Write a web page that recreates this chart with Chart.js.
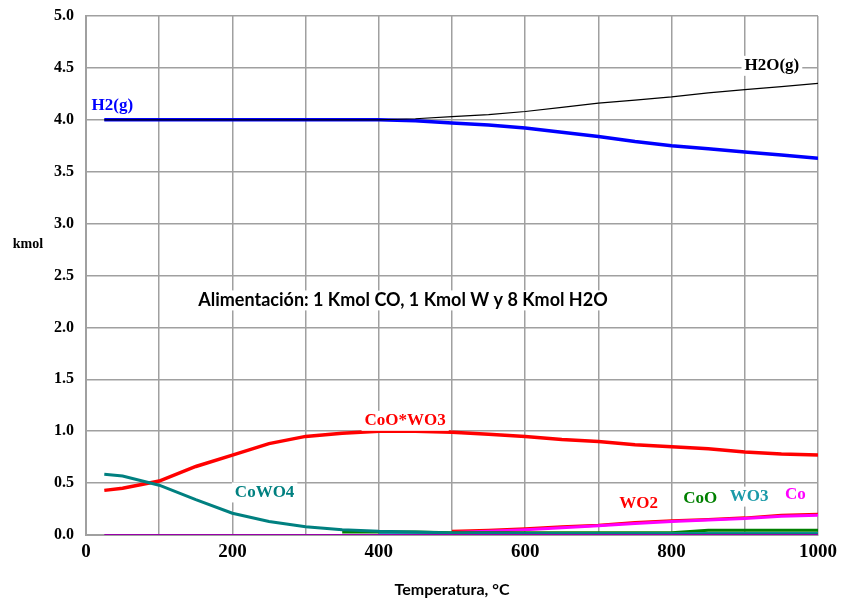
<!DOCTYPE html>
<html>
<head>
<meta charset="utf-8">
<script src="https://cdn.jsdelivr.net/npm/chart.js@4"></script>
<style>
  html, body { margin: 0; padding: 0; background: #fff; }
  canvas { display: block; }
</style>
</head>
<body>
<canvas id="chart" width="841" height="602"></canvas>
<script>
// temperatura (°C)
const temps   = [25, 50, 100, 150, 200, 250, 300, 350, 400, 450, 500, 550, 600, 650, 700, 750, 800, 850, 900, 950, 1000];
// kmol de cada especie
const h2      = [4.0, 4.0, 4.0, 4.0, 4.0, 4.0, 4.0, 4.0, 4.0, 3.99, 3.97, 3.95, 3.92, 3.88, 3.84, 3.79, 3.75, 3.72, 3.69, 3.66, 3.63];
const h2o     = [4.0, 4.0, 4.0, 4.0, 4.0, 4.0, 4.0, 4.0, 4.0, 4.01, 4.03, 4.05, 4.08, 4.12, 4.16, 4.19, 4.22, 4.26, 4.29, 4.32, 4.35];
const cooWo3  = [0.43, 0.45, 0.52, 0.66, 0.77, 0.88, 0.95, 0.98, 1.0, 1.0, 0.99, 0.97, 0.95, 0.92, 0.90, 0.87, 0.85, 0.83, 0.80, 0.78, 0.77];
const cowo4   = [0.585, 0.568, 0.48, 0.34, 0.21, 0.13, 0.08, 0.05, 0.035, 0.03, 0.02, 0.018, 0.015, 0.013, 0.012, 0.011, 0.01, 0.01, 0.01, 0.01, 0.01];
const wo3     = [null, null, null, null, null, null, null, null, 0.01, 0.01, 0.012, 0.012, 0.012, 0.012, 0.012, 0.012, 0.012, 0.015, 0.015, 0.015, 0.015];
const coo     = [null, null, null, null, null, null, null, 0.03, 0.03, 0.03, 0.022, 0.022, 0.022, 0.022, 0.022, 0.022, 0.022, 0.045, 0.045, 0.045, 0.045];
const co      = [null, null, null, null, null, null, null, null, null, null, 0.025, 0.035, 0.05, 0.07, 0.09, 0.11, 0.13, 0.145, 0.16, 0.18, 0.19];
const wo2     = [null, null, null, null, null, null, null, null, null, null, 0.035, 0.045, 0.06, 0.08, 0.095, 0.12, 0.138, 0.15, 0.165, 0.19, 0.2];
const w       = [0, 0, 0, 0, 0, 0, 0, 0, 0, 0, 0, 0, 0, 0, 0, 0, 0, 0, 0, 0, 0];

const xGrid  = [0, 100, 200, 300, 400, 500, 600, 700, 800, 900, 1000];
const xTicks = [0, 200, 400, 600, 800, 1000];

const pts = arr => temps.map((t, i) => ({ x: t, y: arr[i] }));

// etiquetas dentro del gráfico: [texto, x (°C), y (kmol), color, fuente]
const serifBold = 'bold 17px "Liberation Serif", "Times New Roman", serif';
const notes = [
  ['H2(g)',   36,  4.14, '#0000ff', serifBold],
  ['H2O(g)',  937, 4.52, '#000000', serifBold],
  ['CoO*WO3', 436, 1.10, '#ff0000', serifBold],
  ['CoWO4',   244, 0.41, '#008080', serifBold],
  ['WO2',     755, 0.30, '#ff0000', serifBold],
  ['CoO',     839, 0.35, '#008000', serifBold],
  ['WO3',     906, 0.37, '#1a9aa8', serifBold],
  ['Co',      969, 0.39, '#ff00ff', serifBold],
  ['Alimentación: 1 Kmol CO, 1 Kmol W y 8 Kmol H2O', 433, 2.26, '#000000', 'bold 18px Lato, "Open Sans", sans-serif']
];

const labelsPlugin = {
  id: 'labels',
  afterDatasetsDraw(chart) {
    const { ctx, scales: { x, y } } = chart;
    ctx.save();
    ctx.textAlign = 'center';
    ctx.textBaseline = 'middle';
    notes.forEach(([txt, tx, ty, color, font]) => {
      ctx.font = font;
      const px = x.getPixelForValue(tx), py = y.getPixelForValue(ty);
      const wTxt = ctx.measureText(txt).width;
      ctx.fillStyle = '#fff';
      ctx.fillRect(px - wTxt / 2 - 3, py - 10, wTxt + 6, 20);
      ctx.fillStyle = color;
      ctx.fillText(txt, px, py);
    });
    // títulos de ejes
    ctx.fillStyle = '#000';
    ctx.font = 'bold 14px "Liberation Serif", serif';
    ctx.fillText('kmol', 28, 244);
    ctx.font = 'bold 16px Lato, "Open Sans", sans-serif';
    ctx.fillText('Temperatura, °C', 452, 590);
    ctx.restore();
  }
};

const line = (label, data, color, width) => ({
  label, data: pts(data), borderColor: color, backgroundColor: color,
  borderWidth: width, pointRadius: 0, tension: 0, fill: false, spanGaps: false
});

new Chart(document.getElementById('chart'), {
  type: 'line',
  data: {
    datasets: [
      line('W', w, '#9900aa', 2),
      line('CoWO4', cowo4, '#008080', 3),
      line('WO3', wo3, '#1a9aa8', 3),
      line('CoO', coo, '#008000', 3),
      line('Co', co, '#ff00ff', 3),
      line('WO2', wo2, '#ff0000', 3),
      line('H2O(g)', h2o, '#000000', 1.2),
      line('H2(g)', h2, '#0000ff', 3.5),
      line('CoO*WO3', cooWo3, '#ff0000', 3.5)
    ]
  },
  options: {
    responsive: false,
    animation: false,
    layout: { padding: { left: 0, right: 23, top: 16, bottom: 0 } },
    plugins: { legend: { display: false }, tooltip: { enabled: false } },
    scales: {
      x: {
        type: 'linear', min: 0, max: 1000,
        afterFit: s => { s.height = 67; s.paddingLeft = 0; s.paddingRight = 0; },
        afterBuildTicks: s => { s.ticks = xGrid.map(v => ({ value: v })); },
        grid: { color: '#a0a0a0', lineWidth: 1.5, drawTicks: false },
        border: { color: '#a0a0a0', width: 2 },
        ticks: {
          padding: 6, color: '#000', maxRotation: 0, autoSkip: false,
          font: { family: '"Liberation Serif", "Times New Roman", serif', size: 19, weight: 'bold' },
          callback: v => xTicks.includes(v) ? String(v) : ''
        }
      },
      y: {
        min: 0, max: 5,
        afterFit: s => { s.width = 86; s.paddingTop = 0; s.paddingBottom = 0; },
        grid: { color: '#a0a0a0', lineWidth: 1.5, drawTicks: false },
        border: { color: '#a0a0a0', width: 2 },
        ticks: {
          stepSize: 0.5, padding: 12, color: '#000',
          font: { family: '"Liberation Serif", "Times New Roman", serif', size: 16, weight: 'bold' },
          callback: v => v.toFixed(1)
        }
      }
    }
  },
  plugins: [labelsPlugin]
});
</script>
</body>
</html>
